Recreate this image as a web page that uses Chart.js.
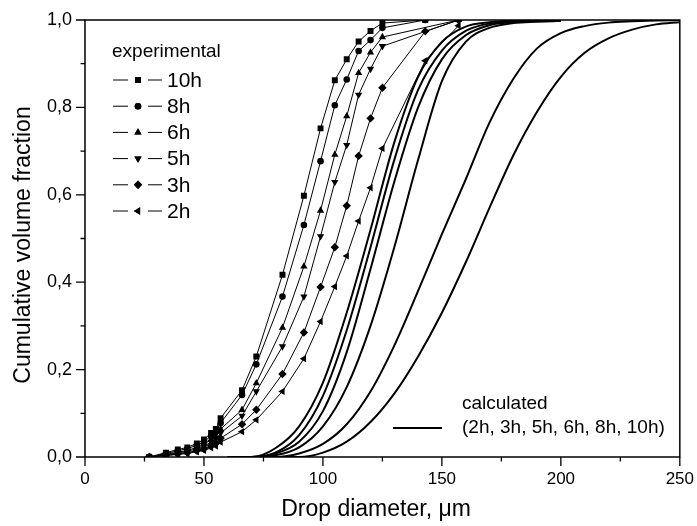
<!DOCTYPE html>
<html><head><meta charset="utf-8">
<script src="https://cdn.jsdelivr.net/npm/chart.js@4/dist/chart.umd.min.js"></script>
<style>html,body{margin:0;padding:0;background:#fff}#wrap{width:697px;height:526px;position:relative}</style>
</head><body><div id="wrap"><canvas id="c"></canvas></div>
<script>
// ---- data ----
const expX   = [27, 34, 39, 43, 47, 50, 53, 55, 57, 66, 72, 83, 92, 99, 105, 110, 115, 120, 125, 143, 157];
const exp10h = [0.000,0.010,0.017,0.022,0.031,0.040,0.055,0.064,0.089,0.153,0.230,0.417,0.598,0.752,0.862,0.910,0.951,0.975,0.993,1.000,null];
const exp8h  = [0.000,0.008,0.014,0.019,0.027,0.035,0.048,0.057,0.078,0.142,0.212,0.367,0.531,0.677,0.805,0.864,0.929,0.954,0.982,1.000,null];
const exp6h  = [0.000,0.006,0.011,0.015,0.022,0.029,0.040,0.047,0.064,0.108,0.169,0.296,0.436,0.564,0.692,0.780,0.879,0.926,0.961,null,1.000];
const exp5h  = [0.000,0.005,0.009,0.013,0.019,0.025,0.034,0.040,0.055,0.094,0.150,0.253,0.367,0.505,0.629,0.714,0.829,0.888,0.940,null,1.000];
const exp3h  = [0.000,0.004,0.007,0.010,0.015,0.019,0.026,0.031,0.043,0.075,0.108,0.190,0.285,0.389,0.480,0.575,0.689,0.775,0.845,0.974,1.000];
const exp2h  = [0.000,0.003,0.006,0.008,0.012,0.015,0.021,0.025,0.034,0.058,0.085,0.150,0.225,0.310,0.390,0.460,0.540,0.616,0.706,0.907,0.987];
const expLabels = ['10h','8h','6h','5h','3h','2h'];

const calcX  = [60,70,80,90,100,110,120,130,140,150,160,170,180,190,200,210,220,230,240,250];
const calcA  = [0,0.000,0.020,0.070,0.170,0.330,0.520,0.720,0.870,0.950,0.985,0.995,0.998,0.999,1.000,null,null,null,null,null];
const calcB  = [0,0.000,0.010,0.050,0.140,0.290,0.480,0.680,0.840,0.930,0.975,0.992,0.997,0.999,0.999,null,null,null,null,null];
const calcC  = [0,0.000,0.008,0.035,0.105,0.240,0.430,0.630,0.800,0.910,0.965,0.988,0.995,0.998,0.999,null,null,null,null,null];
const calcD  = [0,0.000,0.004,0.022,0.070,0.160,0.300,0.480,0.680,0.860,0.950,0.982,0.993,0.996,0.998,null,null,null,null,null];
const calcE  = [0,0.000,0.000,0.008,0.030,0.075,0.150,0.255,0.380,0.510,0.635,0.765,0.865,0.935,0.970,0.986,0.994,0.997,0.999,1.000];
const calcF  = [0,0.000,0.000,0.000,0.010,0.035,0.080,0.145,0.230,0.330,0.445,0.570,0.690,0.790,0.870,0.925,0.958,0.978,0.990,0.995];

const xTicks = [0,50,100,150,200,250];
const yTicks = [0,0.2,0.4,0.6,0.8,1.0];

// ---- styles ----
const FONT = "'Liberation Sans', Arial, sans-serif";
const markers = [
  {style:'rect', r:4.2, rot:0},
  {style:'circle', r:3.3, rot:0},
  {style:'triangle', r:4.2, rot:0},
  {style:'triangle', r:4.2, rot:180},
  {style:'rectRot', r:4.2, rot:0},
  {style:'triangle', r:4.2, rot:-90}
];
const expSeries = [exp10h, exp8h, exp6h, exp5h, exp3h, exp2h];
const calcSeries = [calcA, calcB, calcC, calcD, calcE, calcF];

const datasets = [];
calcSeries.forEach((arr,i)=>{
  datasets.push({
    label:'calc'+i,
    data: calcX.map((x,k)=>({x:x,y:arr[k]})),
    borderColor:'#000', borderWidth:2, pointRadius:0, fill:false,
    cubicInterpolationMode:'monotone', spanGaps:false
  });
});
expSeries.forEach((arr,i)=>{
  datasets.push({
    label:expLabels[i],
    data: expX.map((x,k)=>({x:x,y:arr[k]})),
    borderColor:'#000', borderWidth:1, backgroundColor:'#000',
    pointStyle:markers[i].style, pointRadius:markers[i].r, pointRotation:markers[i].rot,
    pointBorderWidth:0, pointHoverRadius:markers[i].r,
    tension:0, spanGaps:true, fill:false
  });
});

function drawMarker(ctx, m, x, y){
  if (Chart.helpers && Chart.helpers.drawPoint){
    ctx.fillStyle='#000'; ctx.strokeStyle='#000'; ctx.lineWidth=0.01;
    Chart.helpers.drawPoint(ctx,{pointStyle:m.style, radius:m.r, rotation:m.rot, borderWidth:0},x,y);
    ctx.fill();
  }
}

const framePlugin = {
  id:'frame',
  afterDraw(chart){
    const {ctx, chartArea:a, scales} = chart;
    const xs = scales.x, ys = scales.y;
    ctx.save();
    ctx.strokeStyle='#000'; ctx.lineWidth=1.5;
    ctx.strokeRect(a.left, a.top, a.right-a.left, a.bottom-a.top);
    ctx.lineWidth=1.3;
    ctx.beginPath();
    for (let v=0; v<=250; v+=25){
      const px = xs.getPixelForValue(v);
      const len = (v%50===0)?9:4.5;
      ctx.moveTo(px, a.bottom); ctx.lineTo(px, a.bottom+len);
    }
    for (let k=0; k<=10; k++){
      const v = k/10;
      const py = ys.getPixelForValue(v);
      const len = (k%2===0)?9:4.5;
      ctx.moveTo(a.left, py); ctx.lineTo(a.left-len, py);
    }
    ctx.stroke();

    ctx.fillStyle='#000';
    // axis titles
    ctx.textBaseline='middle'; ctx.textAlign='center';
    ctx.font = "23px "+FONT;
    ctx.fillText('Drop diameter, \u03bcm', 376, 510);
    ctx.save();
    ctx.translate(24, 245);
    ctx.rotate(-Math.PI/2);
    ctx.fillText('Cumulative volume fraction', 0, 0);
    ctx.restore();

    // legend: experimental
    ctx.textAlign='left';
    ctx.font = "19px "+FONT;
    ctx.fillText('experimental', 112, 51.7);
    ctx.font = "21px "+FONT;
    for (let i=0;i<expLabels.length;i++){
      const y = 80 + i*26.2;
      ctx.lineWidth=1;
      ctx.beginPath();
      ctx.moveTo(113,y); ctx.lineTo(128,y);
      ctx.moveTo(148,y); ctx.lineTo(162,y);
      ctx.stroke();
      drawMarker(ctx, markers[i], 138, y);
      ctx.fillStyle='#000';
      ctx.fillText(expLabels[i], 167, y+1);
    }
    // legend: calculated
    ctx.font = "19px "+FONT;
    ctx.fillText('calculated', 462, 404);
    ctx.fillText('(2h, 3h, 5h, 6h, 8h, 10h)', 462, 428);
    ctx.lineWidth=2;
    ctx.beginPath(); ctx.moveTo(393,428); ctx.lineTo(442,428); ctx.stroke();
    ctx.restore();
  }
};

new Chart(document.getElementById('c'), {
  type:'line',
  data:{datasets},
  options:{
    responsive:true, maintainAspectRatio:false, animation:false,
    layout:{padding:{left:0,right:15,top:20,bottom:0}},
    plugins:{legend:{display:false}, tooltip:{enabled:false}},
    events:[],
    scales:{
      x:{
        type:'linear', min:0, max:250,
        afterFit(s){ s.height = 69; },
        afterBuildTicks(s){ s.ticks = xTicks.map(v=>({value:v})); },
        grid:{display:true, drawOnChartArea:false, drawTicks:true, tickLength:9, color:'rgba(0,0,0,0)', tickColor:'rgba(0,0,0,0)'},
        border:{display:false},
        ticks:{color:'#000', padding:3, maxRotation:0, font:{family:FONT, size:17}},
        title:{display:false, text:'Drop diameter, \u03bcm'}
      },
      y:{
        type:'linear', min:0, max:1,
        afterFit(s){ s.width = 85; },
        afterBuildTicks(s){ s.ticks = yTicks.map(v=>({value:v})); },
        grid:{display:true, drawOnChartArea:false, drawTicks:true, tickLength:9, color:'rgba(0,0,0,0)', tickColor:'rgba(0,0,0,0)'},
        border:{display:false},
        ticks:{color:'#000', padding:4, font:{family:FONT, size:18},
          callback:(v)=>v.toFixed(1).replace('.',',')},
        title:{display:false, text:'Cumulative volume fraction'}
      }
    }
  },
  plugins:[framePlugin]
});
</script>
</body></html>
